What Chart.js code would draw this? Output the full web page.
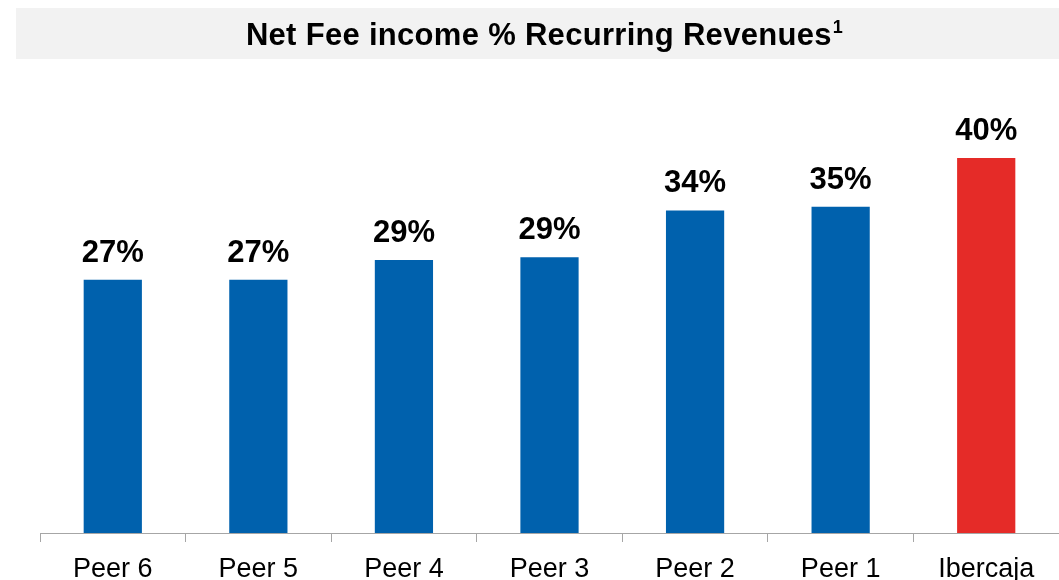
<!DOCTYPE html>
<html>
<head>
<meta charset="utf-8">
<script src="https://cdn.jsdelivr.net/npm/chart.js@4"></script>
<style>
  html, body { margin: 0; padding: 0; background: #ffffff; }
  #wrap { width: 1059px; height: 580px; position: relative; }
</style>
</head>
<body>
<div id="wrap"><canvas id="chart"></canvas></div>
<script>
// Chart data
const categories = ["Peer 6", "Peer 5", "Peer 4", "Peer 3", "Peer 2", "Peer 1", "Ibercaja"];
const feeShare = [27.0, 27.0, 29.1, 29.4, 34.4, 34.8, 40.0];
const barColors = ["#0061ad", "#0061ad", "#0061ad", "#0061ad", "#0061ad", "#0061ad", "#e52b28"];
const chartTitle = "Net Fee income % Recurring Revenues";
const titleNote = "1";

const FONT = "'Liberation Sans', Arial, sans-serif";

// Grey title band with superscript note
const titleBand = {
    id: "titleBand",
    beforeDraw(chart) {
        const ctx = chart.ctx;
        ctx.save();
        ctx.fillStyle = "#f2f2f2";
        ctx.fillRect(16, 8, chart.width - 16, 51);
        ctx.fillStyle = "#000";
        ctx.letterSpacing = "0.3px";
        ctx.font = "bold 31px " + FONT;
        ctx.textBaseline = "alphabetic";
        const w1 = ctx.measureText(chartTitle).width;
        ctx.font = "bold 18px " + FONT;
        const w2 = ctx.measureText(titleNote).width;
        const x0 = 544 - (w1 + w2) / 2;
        ctx.font = "bold 31px " + FONT;
        ctx.textAlign = "left";
        ctx.fillText(chartTitle, x0, 45);
        ctx.font = "bold 18px " + FONT;
        ctx.fillText(titleNote, x0 + w1 + 1, 33);
        ctx.restore();
    }
};

// Value labels on top of bars
const valueLabels = {
    id: "valueLabels",
    afterDatasetsDraw(chart) {
        const ctx = chart.ctx;
        const meta = chart.getDatasetMeta(0);
        ctx.save();
        ctx.fillStyle = "#000";
        ctx.font = "bold 31px " + FONT;
        ctx.textAlign = "center";
        ctx.textBaseline = "alphabetic";
        meta.data.forEach((bar, i) => {
            ctx.fillText(Math.round(feeShare[i]) + "%", bar.x, bar.y - 18);
        });
        ctx.restore();
    }
};

new Chart(document.getElementById("chart").getContext("2d"), {
    type: "bar",
    data: {
        labels: categories,
        datasets: [{
            data: feeShare,
            backgroundColor: barColors,
            borderWidth: 0,
            barPercentage: 0.4,
            categoryPercentage: 1.0
        }]
    },
    options: {
        responsive: true,
        maintainAspectRatio: false,
        animation: false,
        layout: { padding: { top: 111, left: 40, right: 0, bottom: 0 } },
        plugins: {
            legend: { display: false },
            title: { display: false },
            tooltip: { enabled: false }
        },
        scales: {
            x: {
                grid: {
                    offset: true,
                    drawOnChartArea: false,
                    drawTicks: true,
                    tickLength: 9,
                    color: "#a6a6a6"
                },
                border: { display: true, color: "#a6a6a6", width: 1 },
                ticks: {
                    color: "#000",
                    font: { family: FONT, size: 27 },
                    padding: 11,
                    maxRotation: 0,
                    autoSkip: false
                },
                afterFit(scale) { scale.height = 47; }
            },
            y: {
                display: false,
                min: 0,
                max: 45
            }
        }
    },
    plugins: [titleBand, valueLabels]
});
</script>
</body>
</html>
